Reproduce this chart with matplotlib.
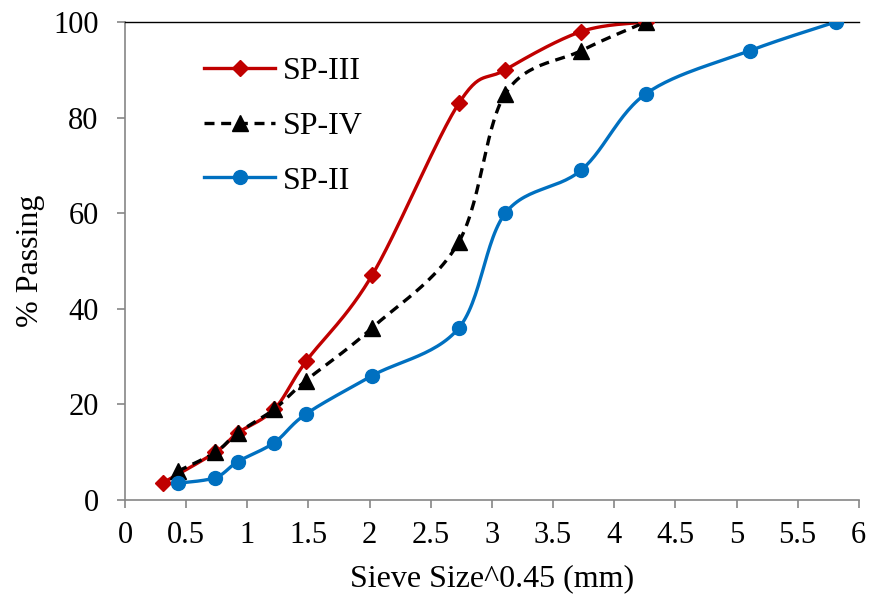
import numpy as np
import matplotlib
matplotlib.use('Agg')
import matplotlib.pyplot as plt
from matplotlib.lines import Line2D

plt.rcParams['font.family'] = ['Liberation Serif', 'DejaVu Serif']

# data
x_iii = [0.31, 0.74, 0.92, 1.22, 1.48, 2.02, 2.73, 3.11, 3.73, 4.26]
y_iii = [3.6, 10, 14, 19, 29, 47, 83, 90, 98, 100]

x_iv = [0.43, 0.74, 0.92, 1.22, 1.48, 2.02, 2.73, 3.11, 3.73, 4.26]
y_iv = [6, 10, 14, 19, 25, 36, 54, 85, 94, 100]

x_ii = [0.43, 0.74, 0.92, 1.22, 1.48, 2.02, 2.73, 3.11, 3.73, 4.26, 5.11, 5.81]
y_ii = [3.5, 4.7, 8, 12, 18, 26, 36, 60, 69, 85, 94, 100]


def smooth(xs, ys, n=30):
    # excel style smoothed line (bezier through the points)
    p = np.column_stack([xs, ys]).astype(float)
    p = np.vstack([p[0], p, p[-1]])
    out = []
    t = np.linspace(0, 1, n)[:, None]
    for i in range(1, len(p) - 2):
        p0, p1, p2, p3 = p[i - 1], p[i], p[i + 1], p[i + 2]
        c1 = p1 + (p2 - p0) / 6
        c2 = p2 - (p3 - p1) / 6
        seg = ((1 - t) ** 3) * p1 + 3 * ((1 - t) ** 2) * t * c1 + 3 * (1 - t) * t ** 2 * c2 + t ** 3 * p2
        out.append(seg)
    out = np.vstack(out)
    return out[:, 0], out[:, 1]


fig = plt.figure(figsize=(8.71, 6.02), dpi=100)
ax = fig.add_axes([0.1435, 0.1694, 0.8425, 0.7941])

red = '#C00000'
blue = '#0070C0'

series = [
    (x_iii, y_iii, red, '-', 'D', 8, 'SP-III'),
    (x_iv, y_iv, 'black', (0, (3, 2)), '^', 11, 'SP-IV'),
    (x_ii, y_ii, blue, '-', 'o', 10, 'SP-II'),
]

handles = []
for xs, ys, col, ls, mk, ms, lab in series:
    sx, sy = smooth(xs, ys)
    ax.plot(sx, sy, color=col, ls=ls, lw=2.4, zorder=2)
    ax.plot(xs, ys, ls='none', marker=mk, ms=ms, color=col, zorder=3)
    handles.append(Line2D([], [], color=col, ls=ls, lw=2.4, marker=mk, ms=ms, label=lab))

ax.set_xlim(0, 6)
ax.set_ylim(0, 100)
ax.set_xticks(np.arange(0, 6.01, 0.5))
ax.set_xticklabels(['0', '0.5', '1', '1.5', '2', '2.5', '3', '3.5', '4', '4.5', '5', '5.5', '6'])
ax.set_yticks(range(0, 101, 20))

for s in ['left', 'bottom']:
    ax.spines[s].set_color('#868686')
    ax.spines[s].set_linewidth(1.2)
ax.spines['right'].set_visible(False)
ax.spines['top'].set_color('black')
ax.spines['top'].set_linewidth(1.0)
ax.tick_params(direction='out', length=6, width=1.2, color='#868686', labelsize=22)
ax.tick_params(axis='y', pad=13)
ax.tick_params(axis='x', pad=9)

ax.set_xlabel('Sieve Size^0.45 (mm)', fontsize=23, labelpad=10)
ax.set_ylabel('% Passing', fontsize=23, labelpad=6)

ax.legend(handles=handles, loc='upper left', bbox_to_anchor=(0.069, 0.988), frameon=False,
          fontsize=23, handlelength=2.2, labelspacing=0.8, handletextpad=0.25)

fig.savefig('out.png', dpi=100)
